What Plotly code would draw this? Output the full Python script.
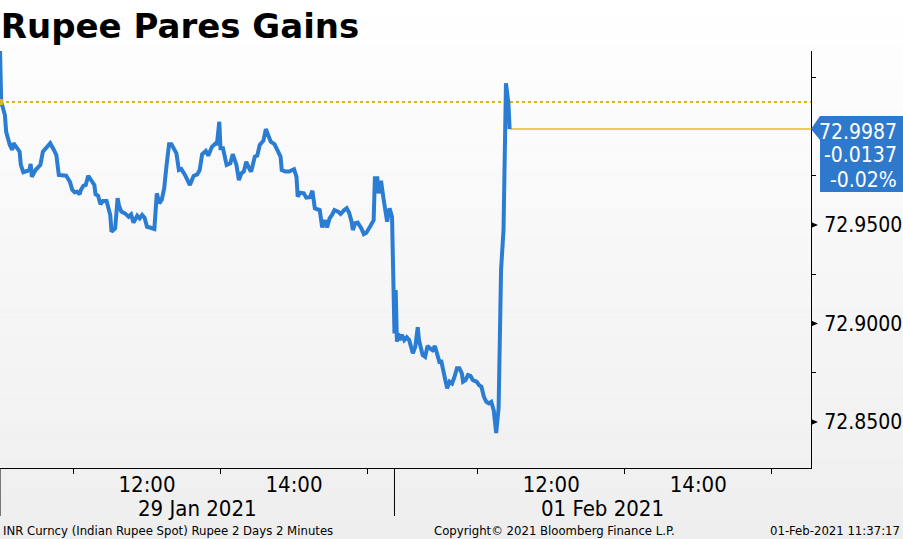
import datetime as dt
import plotly.graph_objects as go

# ---------------- data ----------------
TITLE = "Rupee Pares Gains"
DAY1 = "2021-01-29"
DAY2 = "2021-02-01"
session_day1 = ("10:00", "15:22")
session_day2 = ("09:52", "15:32")

day1_times = [
    "10:00", "10:01", "10:04", "10:05", "10:08", "10:10", "10:11", "10:14", "10:16", "10:17",
    "10:19", "10:22", "10:24", "10:25", "10:26", "10:29", "10:31", "10:33", "10:35", "10:38",
    "10:41", "10:44", "10:46", "10:48", "10:52", "10:54", "10:57", "10:59", "11:01", "11:03",
    "11:05", "11:06", "11:08", "11:10", "11:12", "11:15", "11:17", "11:18", "11:20", "11:22",
    "11:24", "11:27", "11:28", "11:30", "11:31", "11:34", "11:36", "11:37", "11:39", "11:42",
    "11:45", "11:47", "11:49", "11:52", "11:54", "11:56", "11:58", "12:00", "12:03", "12:06",
    "12:08", "12:10", "12:12", "12:14", "12:16", "12:18", "12:20", "12:24", "12:26", "12:28",
    "12:31", "12:35", "12:38", "12:41", "12:43", "12:45", "12:48", "12:50", "12:53", "12:56",
    "12:57", "12:59", "13:00", "13:02", "13:05", "13:08", "13:10", "13:13", "13:15", "13:17",
    "13:19", "13:21", "13:24", "13:25", "13:28", "13:30", "13:32", "13:35", "13:37", "13:39",
    "13:41", "13:44", "13:47", "13:49", "13:50", "13:53", "13:56", "13:58", "14:00", "14:02",
    "14:03", "14:05", "14:08", "14:10", "14:13", "14:15", "14:17", "14:19", "14:21", "14:23",
    "14:25", "14:27", "14:29", "14:31", "14:33", "14:36", "14:38", "14:41", "14:43", "14:45",
    "14:47", "14:48", "14:50", "14:52", "14:55", "14:57", "14:59", "15:02", "15:05", "15:06",
    "15:08", "15:09", "15:11", "15:13", "15:15", "15:16", "15:18", "15:20",
]
day1_values = [
    73.0388, 73.0124, 73.0058, 72.9974, 72.9906, 72.9881, 72.9916, 72.9892, 72.9872, 72.9805,
    72.9768, 72.9774, 72.9779, 72.9810, 72.9745, 72.9779, 72.9791, 72.9805, 72.9872, 72.9897,
    72.9915, 72.9881, 72.9855, 72.9754, 72.9754, 72.9750, 72.9720, 72.9678, 72.9666, 72.9669,
    72.9656, 72.9678, 72.9699, 72.9703, 72.9750, 72.9720, 72.9703, 72.9656, 72.9649, 72.9605,
    72.9622, 72.9622, 72.9602, 72.9551, 72.9466, 72.9483, 72.9636, 72.9602, 72.9568, 72.9559,
    72.9542, 72.9554, 72.9512, 72.9547, 72.9534, 72.9551, 72.9537, 72.9491, 72.9486, 72.9480,
    72.9661, 72.9610, 72.9627, 72.9686, 72.9805, 72.9910, 72.9910, 72.9864, 72.9779, 72.9784,
    72.9754, 72.9703, 72.9749, 72.9757, 72.9779, 72.9859, 72.9876, 72.9852, 72.9897, 72.9915,
    72.9906, 73.0024, 72.9889, 72.9889, 72.9805, 72.9813, 72.9859, 72.9805, 72.9728, 72.9762,
    72.9771, 72.9821, 72.9779, 72.9771, 72.9847, 72.9852, 72.9906, 72.9928, 72.9987, 72.9957,
    72.9923, 72.9911, 72.9872, 72.9847, 72.9779, 72.9771, 72.9771, 72.9779, 72.9783, 72.9745,
    72.9644, 72.9664, 72.9661, 72.9639, 72.9641, 72.9674, 72.9585, 72.9580, 72.9576, 72.9488,
    72.9525, 72.9488, 72.9534, 72.9551, 72.9576, 72.9568, 72.9556, 72.9576, 72.9585, 72.9562,
    72.9517, 72.9475, 72.9509, 72.9512, 72.9483, 72.9454, 72.9461, 72.9491, 72.9525, 72.9737,
    72.9737, 72.9661, 72.9725, 72.9636, 72.9542, 72.9517, 72.9585, 72.9542,
]

day2_times = [
    "09:52", "09:53", "09:54", "09:55", "09:56", "09:58", "10:00", "10:02", "10:04", "10:06",
    "10:07", "10:09", "10:11", "10:12", "10:14", "10:15", "10:17", "10:19", "10:21", "10:23",
    "10:25", "10:27", "10:29", "10:30", "10:31", "10:33", "10:35", "10:37", "10:39", "10:41",
    "10:43", "10:45", "10:47", "10:48", "10:50", "10:52", "10:54", "10:56", "10:59", "11:01",
    "11:03", "11:05", "11:07", "11:09", "11:11", "11:13", "11:14", "11:15", "11:17", "11:18",
    "11:19", "11:21", "11:22", "11:23", "11:25", "11:26",
]
day2_values = [
    72.8950, 72.9170, 72.8908, 72.8950, 72.8916, 72.8942, 72.8916, 72.8930, 72.8916, 72.8857,
    72.8849, 72.8882, 72.8981, 72.8916, 72.8865, 72.8840, 72.8831, 72.8886, 72.8874, 72.8865,
    72.8886, 72.8840, 72.8798, 72.8815, 72.8789, 72.8730, 72.8671, 72.8705, 72.8696, 72.8730,
    72.8773, 72.8773, 72.8747, 72.8705, 72.8713, 72.8739, 72.8734, 72.8713, 72.8705, 72.8688,
    72.8679, 72.8628, 72.8603, 72.8595, 72.8603, 72.8561, 72.8493, 72.8444, 72.8571, 72.9104,
    72.9272, 72.9475, 72.9948, 73.0219, 73.0118, 72.9987,
]

prev_close = 73.0124
y_range = [72.8267, 73.0383]
y_tick_values = [72.85, 72.90, 72.95]
y_minor_values = [72.875, 72.925, 72.975, 73.025]
x_label_hours = ["12:00", "14:00"]
x_tick_hours = ["11:00", "13:00", "15:00"]
date_labels = ["29 Jan 2021", "01 Feb 2021"]
footer_left = "INR Curncy (Indian Rupee Spot) Rupee 2 Days 2 Minutes"
footer_mid = "Copyright\u00a9 2021 Bloomberg Finance L.P."
footer_right = "01-Feb-2021 11:37:17"

# ---------------- style ----------------
W, H = 903, 539
ML, MR, MT, MB = 0, 92, 51, 71
PW, PH = W - ML - MR, H - MT - MB
COND = "DejaVu Sans Condensed, Liberation Sans Narrow, DejaVu Sans, sans-serif"
BOLD = "DejaVu Sans, Verdana, sans-serif"
BLUE = "#2b7cd3"
BOX_BLUE = "#2e79cc"
YELLOW = "#d8b71e"


def dy(px):
    return px * (y_range[1] - y_range[0]) / PH


def py(Y):  # figure pixel row -> paper y
    return (H - MB - Y) / PH


def px(X):  # figure pixel column -> paper x
    return (X - ML) / PW


x_all = [f"{DAY1} {t}" for t in day1_times] + [f"{DAY2} {t}" for t in day2_times]
y_all = day1_values + day2_values
x_start = f"{DAY1} {session_day1[0]}"
x_end = f"{DAY2} {session_day2[1]}"

last = y_all[-1]
chg = last - prev_close
pct = chg / prev_close * 100

fig = go.Figure()
fig.add_trace(go.Scatter(x=x_all, y=y_all, mode="lines",
                         line=dict(color=BLUE, width=4), hoverinfo="skip"))
fig.add_trace(go.Scatter(x=[x_start], y=[prev_close], mode="markers",
                         marker=dict(symbol="square", size=6, color=YELLOW), hoverinfo="skip"))

shapes = []
# background gradient
N = 60
top, bot = py(0), py(H)
for i in range(N):
    c = round(255 - 17 * (i + 0.5) / N)
    shapes.append(dict(type="rect", xref="paper", yref="paper", layer="below",
                       x0=px(0), x1=px(W), y0=top + (bot - top) * i / N,
                       y1=top + (bot - top) * (i + 1) / N,
                       fillcolor=f"rgb({c},{c},{c})", line=dict(width=0)))
# previous close dotted line
shapes.append(dict(type="line", xref="x", yref="y", x0=x_start, x1=x_end,
                   y0=prev_close, y1=prev_close, layer="below",
                   line=dict(color=YELLOW, width=2, dash="dot")))
# last price line
shapes.append(dict(type="line", xref="x", yref="y", x0=x_all[-1], x1=x_end,
                   y0=last, y1=last, layer="below",
                   line=dict(color="#e2c21c", width=1.5)))
# day separators below the axis
for xv, ref in [(0, "paper"), (f"{DAY2} {session_day2[0]}", "x")]:
    shapes.append(dict(type="line", xref=ref, yref="paper", x0=xv, x1=xv,
                       y0=0, y1=py(516), line=dict(color="black", width=1)))
# triangles at major y ticks
d3 = dy(3)
for v in y_tick_values:
    shapes.append(dict(type="path", xref="paper", yref="y",
                       path=f"M 1,{v + d3} L {px(ML + PW + 7)},{v} L 1,{v - d3} Z",
                       fillcolor="black", line=dict(width=0)))
# last price box with arrow
bx = px(ML + PW + 9)
shapes.append(dict(type="path", xref="paper", yref="y",
                   path=(f"M 1,{last} L {bx},{last + dy(13)} L {px(W)},{last + dy(13)} "
                         f"L {px(W)},{last - dy(63)} L {bx},{last - dy(63)} "
                         f"L {bx},{last - dy(11)} Z"),
                   fillcolor=BOX_BLUE, line=dict(width=0)))

annotations = []
for txt, off in [(f"{last:.4f}", 3), (f"{chg:.4f}", 26), (f"{pct:.2f}%", 51)]:
    annotations.append(dict(text=txt, xref="paper", yref="y", x=px(899), y=last - dy(off),
                            xanchor="right", yanchor="middle", showarrow=False,
                            font=dict(family=COND, size=21, color="white")))


def mid_time(day, sess):
    a = dt.datetime.fromisoformat(f"{day} {sess[0]}")
    b = dt.datetime.fromisoformat(f"{day} {sess[1]}")
    return (a + (b - a) / 2).strftime("%Y-%m-%d %H:%M")


for day, sess, lab in [(DAY1, session_day1, date_labels[0]), (DAY2, session_day2, date_labels[1])]:
    annotations.append(dict(text=lab, xref="x", yref="paper", x=mid_time(day, sess), y=py(508),
                            xanchor="center", yanchor="middle", showarrow=False,
                            font=dict(family=COND, size=22, color="black")))

for txt, xx, anc in [(footer_left, px(1), "left"), (footer_mid, px(554), "center"),
                     (footer_right, px(902), "right")]:
    annotations.append(dict(text=txt, xref="paper", yref="paper", x=xx, y=py(530),
                            xanchor=anc, yanchor="middle", showarrow=False,
                            font=dict(family=COND, size=13, color="black")))

x_tickvals = [f"{d} {h}" for d in (DAY1, DAY2) for h in x_label_hours]
x_ticktext = [h for d in (DAY1, DAY2) for h in x_label_hours]
x_minorvals = [f"{d} {h}" for d in (DAY1, DAY2) for h in x_tick_hours]

fig.update_layout(
    width=W, height=H,
    margin=dict(l=ML, r=MR, t=MT, b=MB, pad=0),
    paper_bgcolor="white", plot_bgcolor="rgba(0,0,0,0)",
    showlegend=False,
    title=dict(text=f"<b>{TITLE}</b>", x=0.001, xanchor="left", xref="paper",
               y=1 - 26 / H, yanchor="middle", yref="container",
               font=dict(family=BOLD, size=34, color="black")),
    shapes=shapes, annotations=annotations,
    xaxis=dict(type="date", range=[x_start, x_end],
               rangebreaks=[dict(bounds=[f"{DAY1} {session_day1[1]}", f"{DAY2} {session_day2[0]}"])],
               tickmode="array", tickvals=x_tickvals, ticktext=x_ticktext, ticks="",
               ticklabelstandoff=-3,
               tickfont=dict(family=COND, size=22, color="black"),
               showline=True, linecolor="black", linewidth=1,
               showgrid=False, zeroline=False,
               minor=dict(tickmode="array", tickvals=x_minorvals, ticks="outside",
                          ticklen=5, tickcolor="black", tickwidth=1, showgrid=False)),
    yaxis=dict(side="right", range=y_range, tickmode="array", tickvals=y_tick_values,
               ticktext=[f"{v:.4f}" for v in y_tick_values], ticks="",
               ticklabelstandoff=8,
               tickfont=dict(family=COND, size=21, color="black"),
               showline=True, linecolor="black", linewidth=1,
               showgrid=False, zeroline=False,
               minor=dict(tickmode="array", tickvals=y_minor_values, ticks="outside",
                          ticklen=4, tickcolor="black", tickwidth=1, showgrid=False)),
)

fig.write_html("out.html", config={"displayModeBar": False},
               post_script="document.body.style.margin='0';document.body.style.padding='0';")
